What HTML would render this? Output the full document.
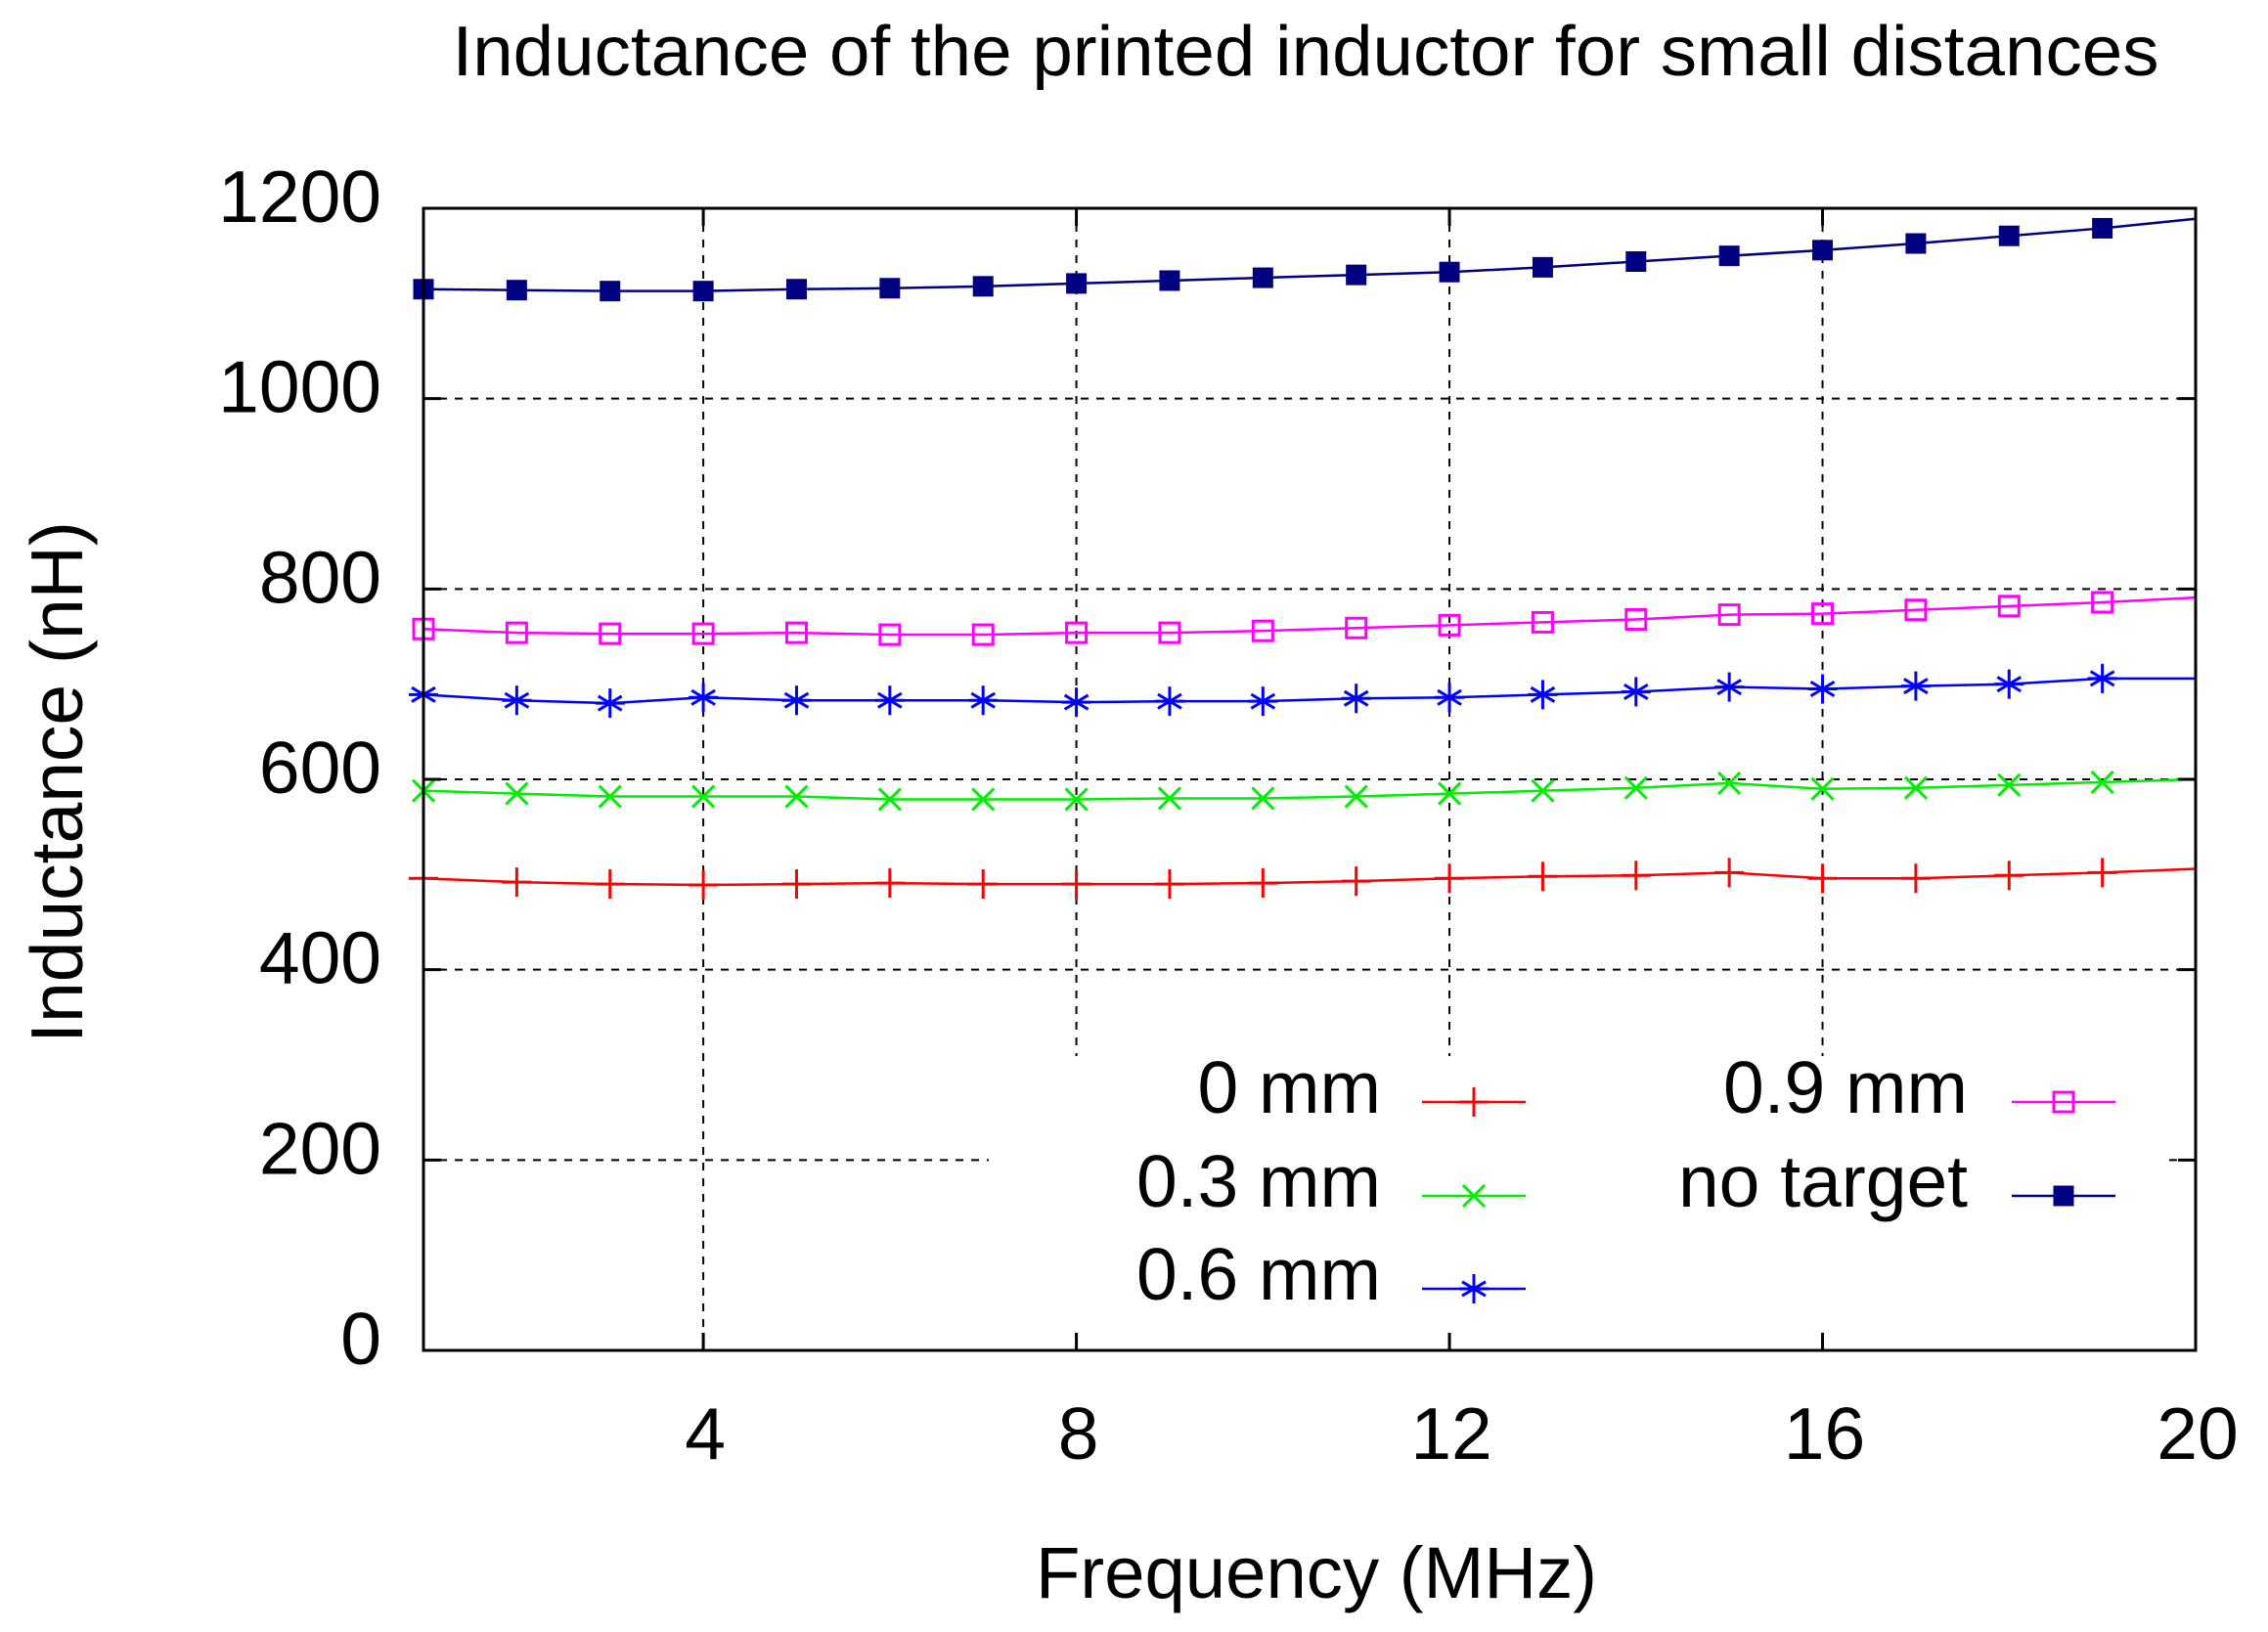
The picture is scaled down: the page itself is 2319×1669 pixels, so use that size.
<!DOCTYPE html>
<html><head><meta charset="utf-8"><style>html,body{margin:0;padding:0;background:#fff}svg{display:block}text{font-family:"Liberation Sans",Arial,sans-serif;fill:#000}</style></head>
<body>
<svg id="chart" width="2319" height="1669" viewBox="0 0 2319 1669" xmlns="http://www.w3.org/2000/svg">
<rect width="2319" height="1669" fill="#fff"/>
<text x="1335" y="77" font-size="72" text-anchor="middle" textLength="1745" lengthAdjust="spacingAndGlyphs">Inductance of the printed inductor for small distances</text>
<g id="grid"></g>
<g id="series"></g>
<g id="legend"></g>
<rect x="433" y="213" width="1812" height="1168" fill="none" stroke="#000" stroke-width="3"/>
<g id="ticks"></g>
<text x="1346" y="1634" font-size="74" text-anchor="middle" textLength="574" lengthAdjust="spacingAndGlyphs">Frequency (MHz)</text>
<text transform="translate(84,800) rotate(-90)" font-size="75" text-anchor="middle">Inductance (nH)</text>
</svg>
<script>
const freqs = [1,2,3,4,5,6,7,8,9,10,11,12,13,14,15,16,17,18,19,20];
const s0mm = [496,492,490,489,490,491,490,490,490,491,493,496,498,499,502,496,496,499,502,506];
const s03mm = [588,585,582,582,582,579,579,579,580,580,582,585,588,591,596,590,591,594,597,600];
const s06mm = [689,683,680,686,683,683,683,681,682,682,685,686,689,692,697,695,698,700,706,706];
const s09mm = [758,754,753,753,754,752,752,754,754,756,759,762,765,768,773,774,778,782,786,791];
const sNone = [1115,1114,1113,1113,1115,1116,1118,1121,1124,1127,1130,1133,1138,1144,1150,1156,1163,1171,1179,1189];
const xTicks = [4,8,12,16,20];
const yTicks = [0,200,400,600,800,1000,1200];
const legendNames = ['0 mm','0.3 mm','0.6 mm','0.9 mm','no target'];

const NS='http://www.w3.org/2000/svg';
const L=433,R=2245,T=213,B=1381;
const X=v=>L+(v-1)/(20-1)*(R-L);
const Y=v=>B-(v/1200)*(B-T);
function mk(tag,attrs,parent){const e=document.createElementNS(NS,tag);for(const k in attrs)e.setAttribute(k,attrs[k]);parent.appendChild(e);return e;}
const grid=document.getElementById('grid'),ticks=document.getElementById('ticks'),ser=document.getElementById('series'),leg=document.getElementById('legend');
const LB={x1:1011,x2:2218,y1:1080};
yTicks.forEach(v=>{const y=Y(v);
 if(v>0&&v<1200){
  if(y>LB.y1){
   let g=mk('line',{x1:L,x2:LB.x1,y1:y,y2:y,stroke:'#000','stroke-width':2,'stroke-dasharray':'8,8'},grid);
   
   g=mk('line',{x1:LB.x2,x2:R,y1:y,y2:y,stroke:'#000','stroke-width':2,'stroke-dasharray':'8,8'},grid);
   
  } else {
   const g=mk('line',{x1:L,x2:R,y1:y,y2:y,stroke:'#000','stroke-width':2,'stroke-dasharray':'8,8'},grid);
   
  }
 }
 let t=mk('line',{x1:L,x2:L+18,y1:y,y2:y,stroke:'#000','stroke-width':3},ticks);
 
 t=mk('line',{x1:R-18,x2:R,y1:y,y2:y,stroke:'#000','stroke-width':3},ticks);
 
 const tx=mk('text',{x:390,y:y+14,'font-size':75,'text-anchor':'end'},ticks);tx.textContent=v;
 
});
xTicks.forEach(v=>{const x=X(v);
 if(v<20){
  const yEnd=(x>LB.x1&&x<LB.x2)?LB.y1:B;
  const g=mk('line',{x1:x,x2:x,y1:T,y2:yEnd,stroke:'#000','stroke-width':2,'stroke-dasharray':'8,8'},grid);
  
 }
 let t=mk('line',{x1:x,x2:x,y1:B-18,y2:B,stroke:'#000','stroke-width':3},ticks);
 
 t=mk('line',{x1:x,x2:x,y1:T,y2:T+18,stroke:'#000','stroke-width':3},ticks);
 
 const tx=mk('text',{x:x+2,y:1492,'font-size':75,'text-anchor':'middle'},ticks);tx.textContent=v;
 
});
const lb=mk('rect',{x:LB.x1,y:LB.y1,width:LB.x2-LB.x1,height:B-LB.y1-2,fill:'#fff'},grid);


function marker(type,x,y,color,parent){
 const g=mk('g',{stroke:color,'stroke-width':3,fill:'none'},parent);
 
 const s=15;
 if(type==='plus'){mk('line',{x1:x-s,x2:x+s,y1:y,y2:y},g);mk('line',{x1:x,x2:x,y1:y-s,y2:y+s},g);}
 else if(type==='cross'){const d=11;mk('line',{x1:x-d,x2:x+d,y1:y-d,y2:y+d},g);mk('line',{x1:x-d,x2:x+d,y1:y+d,y2:y-d},g);}
 else if(type==='star'){const d=12;mk('line',{x1:x-s,x2:x+s,y1:y,y2:y},g);mk('line',{x1:x,x2:x,y1:y-s,y2:y+s},g);mk('line',{x1:x-d,x2:x+d,y1:y-d*0.6,y2:y+d*0.6},g);mk('line',{x1:x-d,x2:x+d,y1:y+d*0.6,y2:y-d*0.6},g);}
 else if(type==='box'){mk('rect',{x:x-10,y:y-10,width:20,height:20},g);}
 else if(type==='fbox'){mk('rect',{x:x-10.5,y:y-10.5,width:21,height:21,fill:color,stroke:'none'},g);}
}
const allSeries=[[s0mm,'#ff0000','plus','series-0mm'],[s03mm,'#00ee00','cross','series-0.3mm'],[s06mm,'#0000ff','star','series-0.6mm'],[s09mm,'#ff00ff','box','series-0.9mm'],[sNone,'#000080','fbox','series-no-target']];
allSeries.forEach(([d,c,m,n])=>{
 const g=mk('g',{},ser);
 
 const pl=mk('polyline',{points:d.map((v,i)=>X(freqs[i])+','+Y(v)).join(' '),fill:'none',stroke:c,'stroke-width':2.5},g);
 
 d.forEach((v,i)=>{if(freqs[i]<20)marker(m,X(freqs[i]),Y(v),c,g);});
});
const legPos=[[1412,1454,1560,1127],[1412,1454,1560,1223],[1412,1454,1560,1318],[2012,2057,2163,1127],[2012,2057,2163,1223]];
allSeries.forEach(([d,c,m],i)=>{
 const [tx,lx1,lx2,y]=legPos[i];
 const g=mk('g',{},leg);
 
 const t=mk('text',{x:tx,y:y+11,'font-size':75,'text-anchor':'end'},g);t.textContent=legendNames[i];
 
 const ln=mk('line',{x1:lx1,x2:lx2,y1:y,y2:y,stroke:c,'stroke-width':2.5},g);
 
 marker(m,(lx1+lx2)/2,y,c,g);
});
</script>
</body></html>
